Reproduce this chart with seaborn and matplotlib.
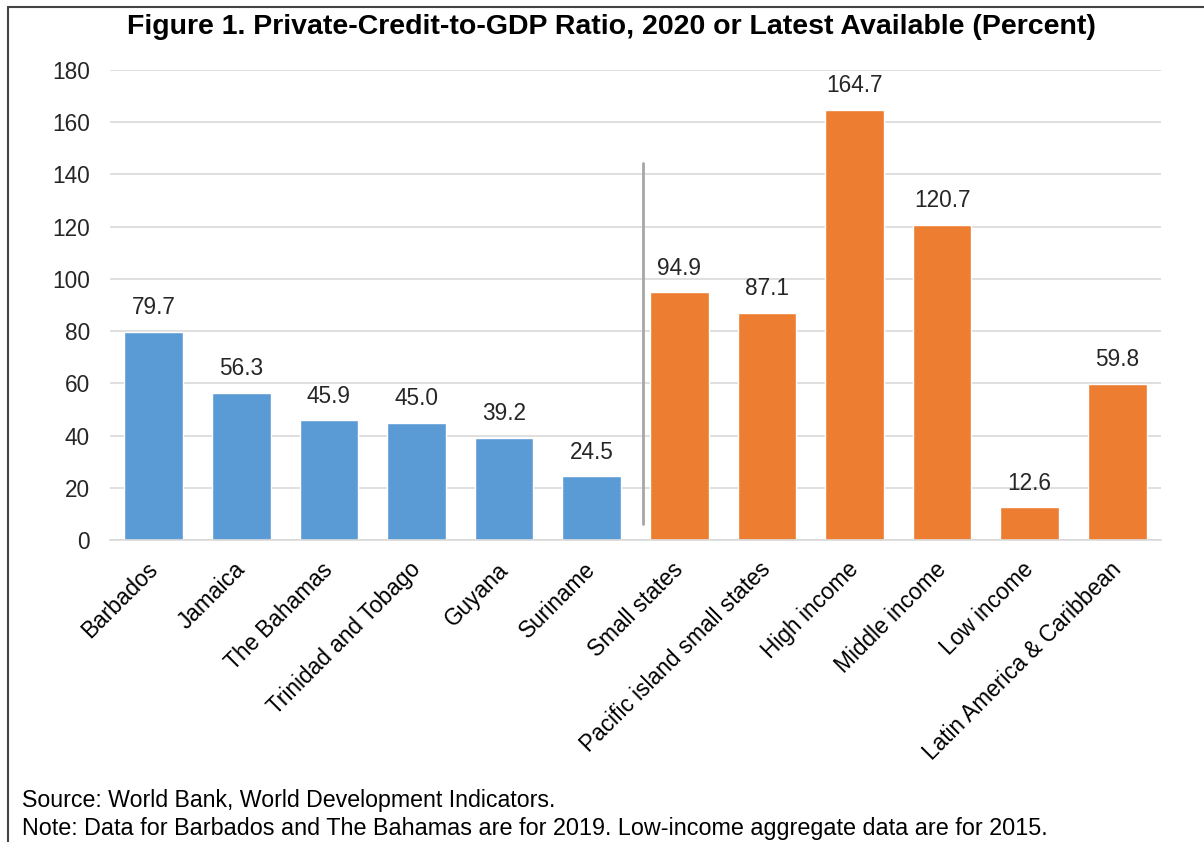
import matplotlib
matplotlib.use("Agg")
import matplotlib.pyplot as plt
from matplotlib.lines import Line2D
from matplotlib.transforms import ScaledTranslation
import seaborn as sns
import pandas as pd

categories = ["Barbados", "Jamaica", "The Bahamas", "Trinidad and Tobago", "Guyana",
              "Suriname", "Small states", "Pacific island small states", "High income",
              "Middle income", "Low income", "Latin America & Caribbean"]
values = [79.7, 56.3, 45.9, 45.0, 39.2, 24.5, 94.9, 87.1, 164.7, 120.7, 12.6, 59.8]
groups = ["Country"] * 6 + ["Aggregate"] * 6
y_ticks = [0, 20, 40, 60, 80, 100, 120, 140, 160, 180]

df = pd.DataFrame({"category": categories, "value": values, "group": groups})

sns.set_theme(style="white")
plt.rcParams["font.family"] = ["Liberation Sans", "DejaVu Sans"]

fig = plt.figure(figsize=(12.04, 8.42), dpi=100)
ax = fig.add_axes([110 / 1204, 1 - 540 / 842, (1161 - 110) / 1204, (540 - 70) / 842])

sns.barplot(data=df, x="category", y="value", hue="group",
            palette={"Country": "#5B9BD5", "Aggregate": "#ED7D31"}, saturation=1,
            dodge=False, width=0.67, legend=False, ax=ax, zorder=2)

for container in ax.containers:
    ax.bar_label(container, fmt="%.1f", padding=9, fontsize=16.3, color="#262626")

ax.set_ylim(0, 180)
ax.set_xlim(-0.5, 11.5)
ax.set_yticks(y_ticks)
ax.yaxis.grid(True, color="#D9D9D9", linewidth=1.2, zorder=0)
ax.set_axisbelow(True)
for side in ["left", "right", "top"]:
    ax.spines[side].set_visible(False)
ax.spines["bottom"].set_color("#D9D9D9")
ax.spines["bottom"].set_linewidth(1.2)
ax.tick_params(axis="y", length=0, pad=14.5, labelsize=16.3, labelcolor="#262626")
ax.tick_params(axis="x", length=0, pad=13, labelsize=16.3, labelcolor="#000000")
shift = ScaledTranslation(-0.075, 0, fig.dpi_scale_trans)
for lbl in ax.get_xticklabels():
    lbl.set_rotation(45)
    lbl.set_ha("right")
    lbl.set_rotation_mode("anchor")
    lbl.set_transform(lbl.get_transform() + shift)
ax.set_xlabel("")
ax.set_ylabel("")

# separator between individual countries and aggregates
ax.plot([5.59, 5.59], [6.0, 144.5], color="#A6A6A6", linewidth=2, zorder=3)

fig.text(0.508, 1 - 27 / 842, "Figure 1. Private-Credit-to-GDP Ratio, 2020 or Latest Available (Percent)",
         ha="center", va="center", fontsize=20.5, fontweight="bold", color="#000000")
fig.text(22 / 1204, 1 - 801 / 842, "Source: World Bank, World Development Indicators.",
         ha="left", va="center", fontsize=16.7, color="#000000")
fig.text(22 / 1204, 1 - 829 / 842,
         "Note: Data for Barbados and The Bahamas are for 2019. Low-income aggregate data are for 2015.",
         ha="left", va="center", fontsize=16.8, color="#000000")

# frame lines along the top and left edges
fig.add_artist(Line2D([7.5 / 1204, 7.5 / 1204], [0, 1 - 7 / 842], transform=fig.transFigure,
                      color="#444444", linewidth=1.5))
fig.add_artist(Line2D([7.5 / 1204, 1], [1 - 7 / 842, 1 - 7 / 842], transform=fig.transFigure,
                      color="#444444", linewidth=1.5))

fig.savefig("out.png", dpi=100)
